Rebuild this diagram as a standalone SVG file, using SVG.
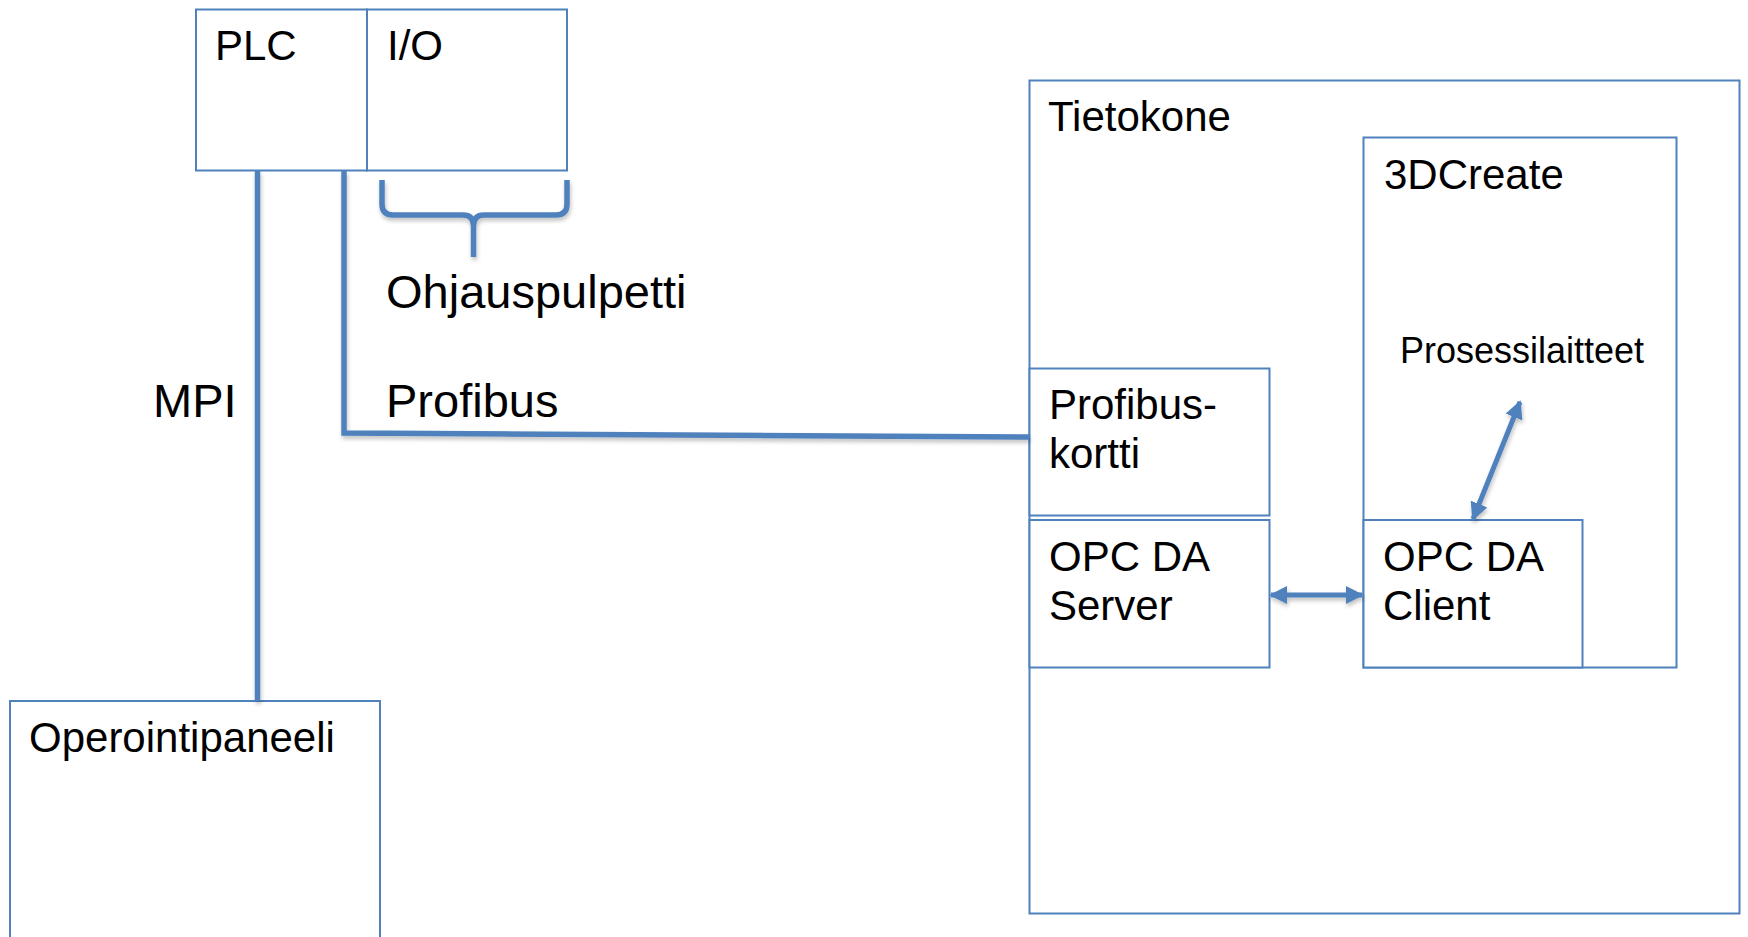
<svg xmlns="http://www.w3.org/2000/svg" width="1748" height="937" viewBox="0 0 1748 937">
<style>
.box{fill:#ffffff;stroke:#4f81bd;stroke-width:2}
.t{font-family:"Liberation Sans",Arial,sans-serif;fill:#000000}
.f42{font-size:42px}
.f47{font-size:47px}
.f36{font-size:36px}
.wire{fill:none;stroke:#4f81bd;stroke-width:5.5}
.arr{fill:none;stroke:#4f81bd;stroke-width:5}
</style>
<defs>
<marker id="ah" viewBox="0 0 10 10" refX="9" refY="5" markerWidth="3.6" markerHeight="3.6" orient="auto-start-reverse" markerUnits="strokeWidth">
<path d="M0,0 L10,5 L0,10 Z" fill="#4f81bd"/>
</marker>
<filter id="sh" filterUnits="userSpaceOnUse" x="0" y="0" width="1748" height="937">
<feGaussianBlur in="SourceAlpha" stdDeviation="2"/>
<feOffset dx="1" dy="3" result="b"/>
<feComponentTransfer><feFuncA type="linear" slope="0.25"/></feComponentTransfer>
<feMerge><feMergeNode/><feMergeNode in="SourceGraphic"/></feMerge>
</filter>
</defs>
<rect width="1748" height="937" fill="#ffffff"/>

<g id="tietokone">
<rect class="box" x="1029.5" y="80.5" width="710" height="833"/>
<text class="t f42" x="1048" y="131">Tietokone</text>
</g>
<g id="dcreate">
<rect class="box" x="1363.5" y="137.5" width="313" height="530"/>
<text class="t f42" x="1384" y="189">3DCreate</text>
<text class="t f36" x="1400" y="363">Prosessilaitteet</text>
</g>
<g id="profibuskortti">
<rect class="box" x="1029.5" y="368.5" width="240" height="147"/>
<text class="t f42" x="1049" y="419">Profibus-</text>
<text class="t f42" x="1049" y="468">kortti</text>
</g>
<g id="opcserver">
<rect class="box" x="1029.5" y="520" width="240" height="147.5"/>
<text class="t f42" x="1049" y="571">OPC DA</text>
<text class="t f42" x="1049" y="620">Server</text>
</g>
<g id="opcclient">
<rect class="box" x="1363.5" y="520" width="219" height="147.5"/>
<text class="t f42" x="1383" y="571">OPC DA</text>
<text class="t f42" x="1383" y="620">Client</text>
</g>
<g id="plc">
<rect class="box" x="196" y="9.5" width="171" height="161"/>
<text class="t f42" x="215" y="60">PLC</text>
</g>
<g id="io">
<rect class="box" x="367" y="9.5" width="200" height="161"/>
<text class="t f42" x="387" y="60">I/O</text>
</g>
<g id="operointipaneeli">
<rect class="box" x="10" y="701" width="370" height="260"/>
<text class="t f42" x="29" y="752">Operointipaneeli</text>
</g>
<g id="ohjauspulpetti">
<path class="wire" d="M382,180 L382,204 Q382,215 393,215 L463,215 Q473.5,215 473.5,226 L473.5,257 M473.5,226 Q473.5,215 484,215 L556,215 Q567,215 567,204 L567,180" filter="url(#sh)"/>
<text class="t f47" x="386" y="308">Ohjauspulpetti</text>
</g>

<g id="connectors">
<path class="wire" d="M257.5,171 L257.5,701" filter="url(#sh)"/>
<path class="wire" d="M344,171 L344,433 L1029,437" filter="url(#sh)"/>
<line class="arr" x1="1271" y1="595" x2="1362" y2="595" marker-start="url(#ah)" marker-end="url(#ah)" filter="url(#sh)"/>
<line class="arr" x1="1520" y1="402" x2="1473" y2="519" marker-start="url(#ah)" marker-end="url(#ah)" filter="url(#sh)"/>
<text class="t f47" x="386" y="417">Profibus</text>
<text class="t f47" x="153" y="417">MPI</text>
</g>
</svg>
